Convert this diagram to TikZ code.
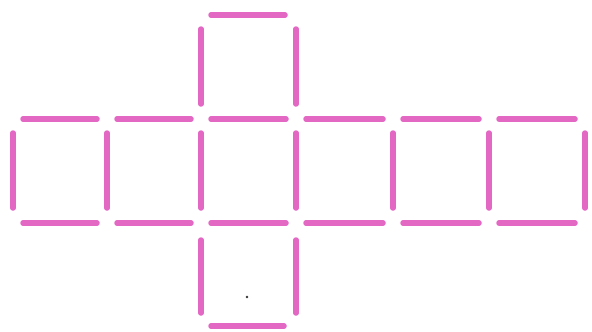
\documentclass[tikz,border=0pt]{standalone}
\definecolor{stickpink}{HTML}{E268C4}
\tikzset{stick/.style={line width=5.5pt, line cap=round, draw=stickpink}}
\begin{document}
\begin{tikzpicture}[x=1pt,y=-1pt]
\useasboundingbox (0,0) rectangle (592,332);
% row of six squares: horizontal sticks
\foreach \a/\b in {13/107,107/201,201/296,296/393,393/489,489/585}{
  \draw[stick] (\a+10,119) -- (\b-10,119);
  \draw[stick] (\a+10,223) -- (\b-10,223);
}
% row verticals
\foreach \x in {13,107,201,296,393,489,585}{
  \draw[stick] (\x,133) -- (\x,208);
}
% top square
\draw[stick] (211,15) -- (285,15);
\draw[stick] (201,29) -- (201,104);
\draw[stick] (296,29) -- (296,104);
% bottom square
\draw[stick] (211,326) -- (284,326);
\draw[stick] (201,240) -- (201,313);
\draw[stick] (296,240) -- (296,313);
% small dot
\fill[black!80] (247,297) circle (1.3);
\end{tikzpicture}
\end{document}
